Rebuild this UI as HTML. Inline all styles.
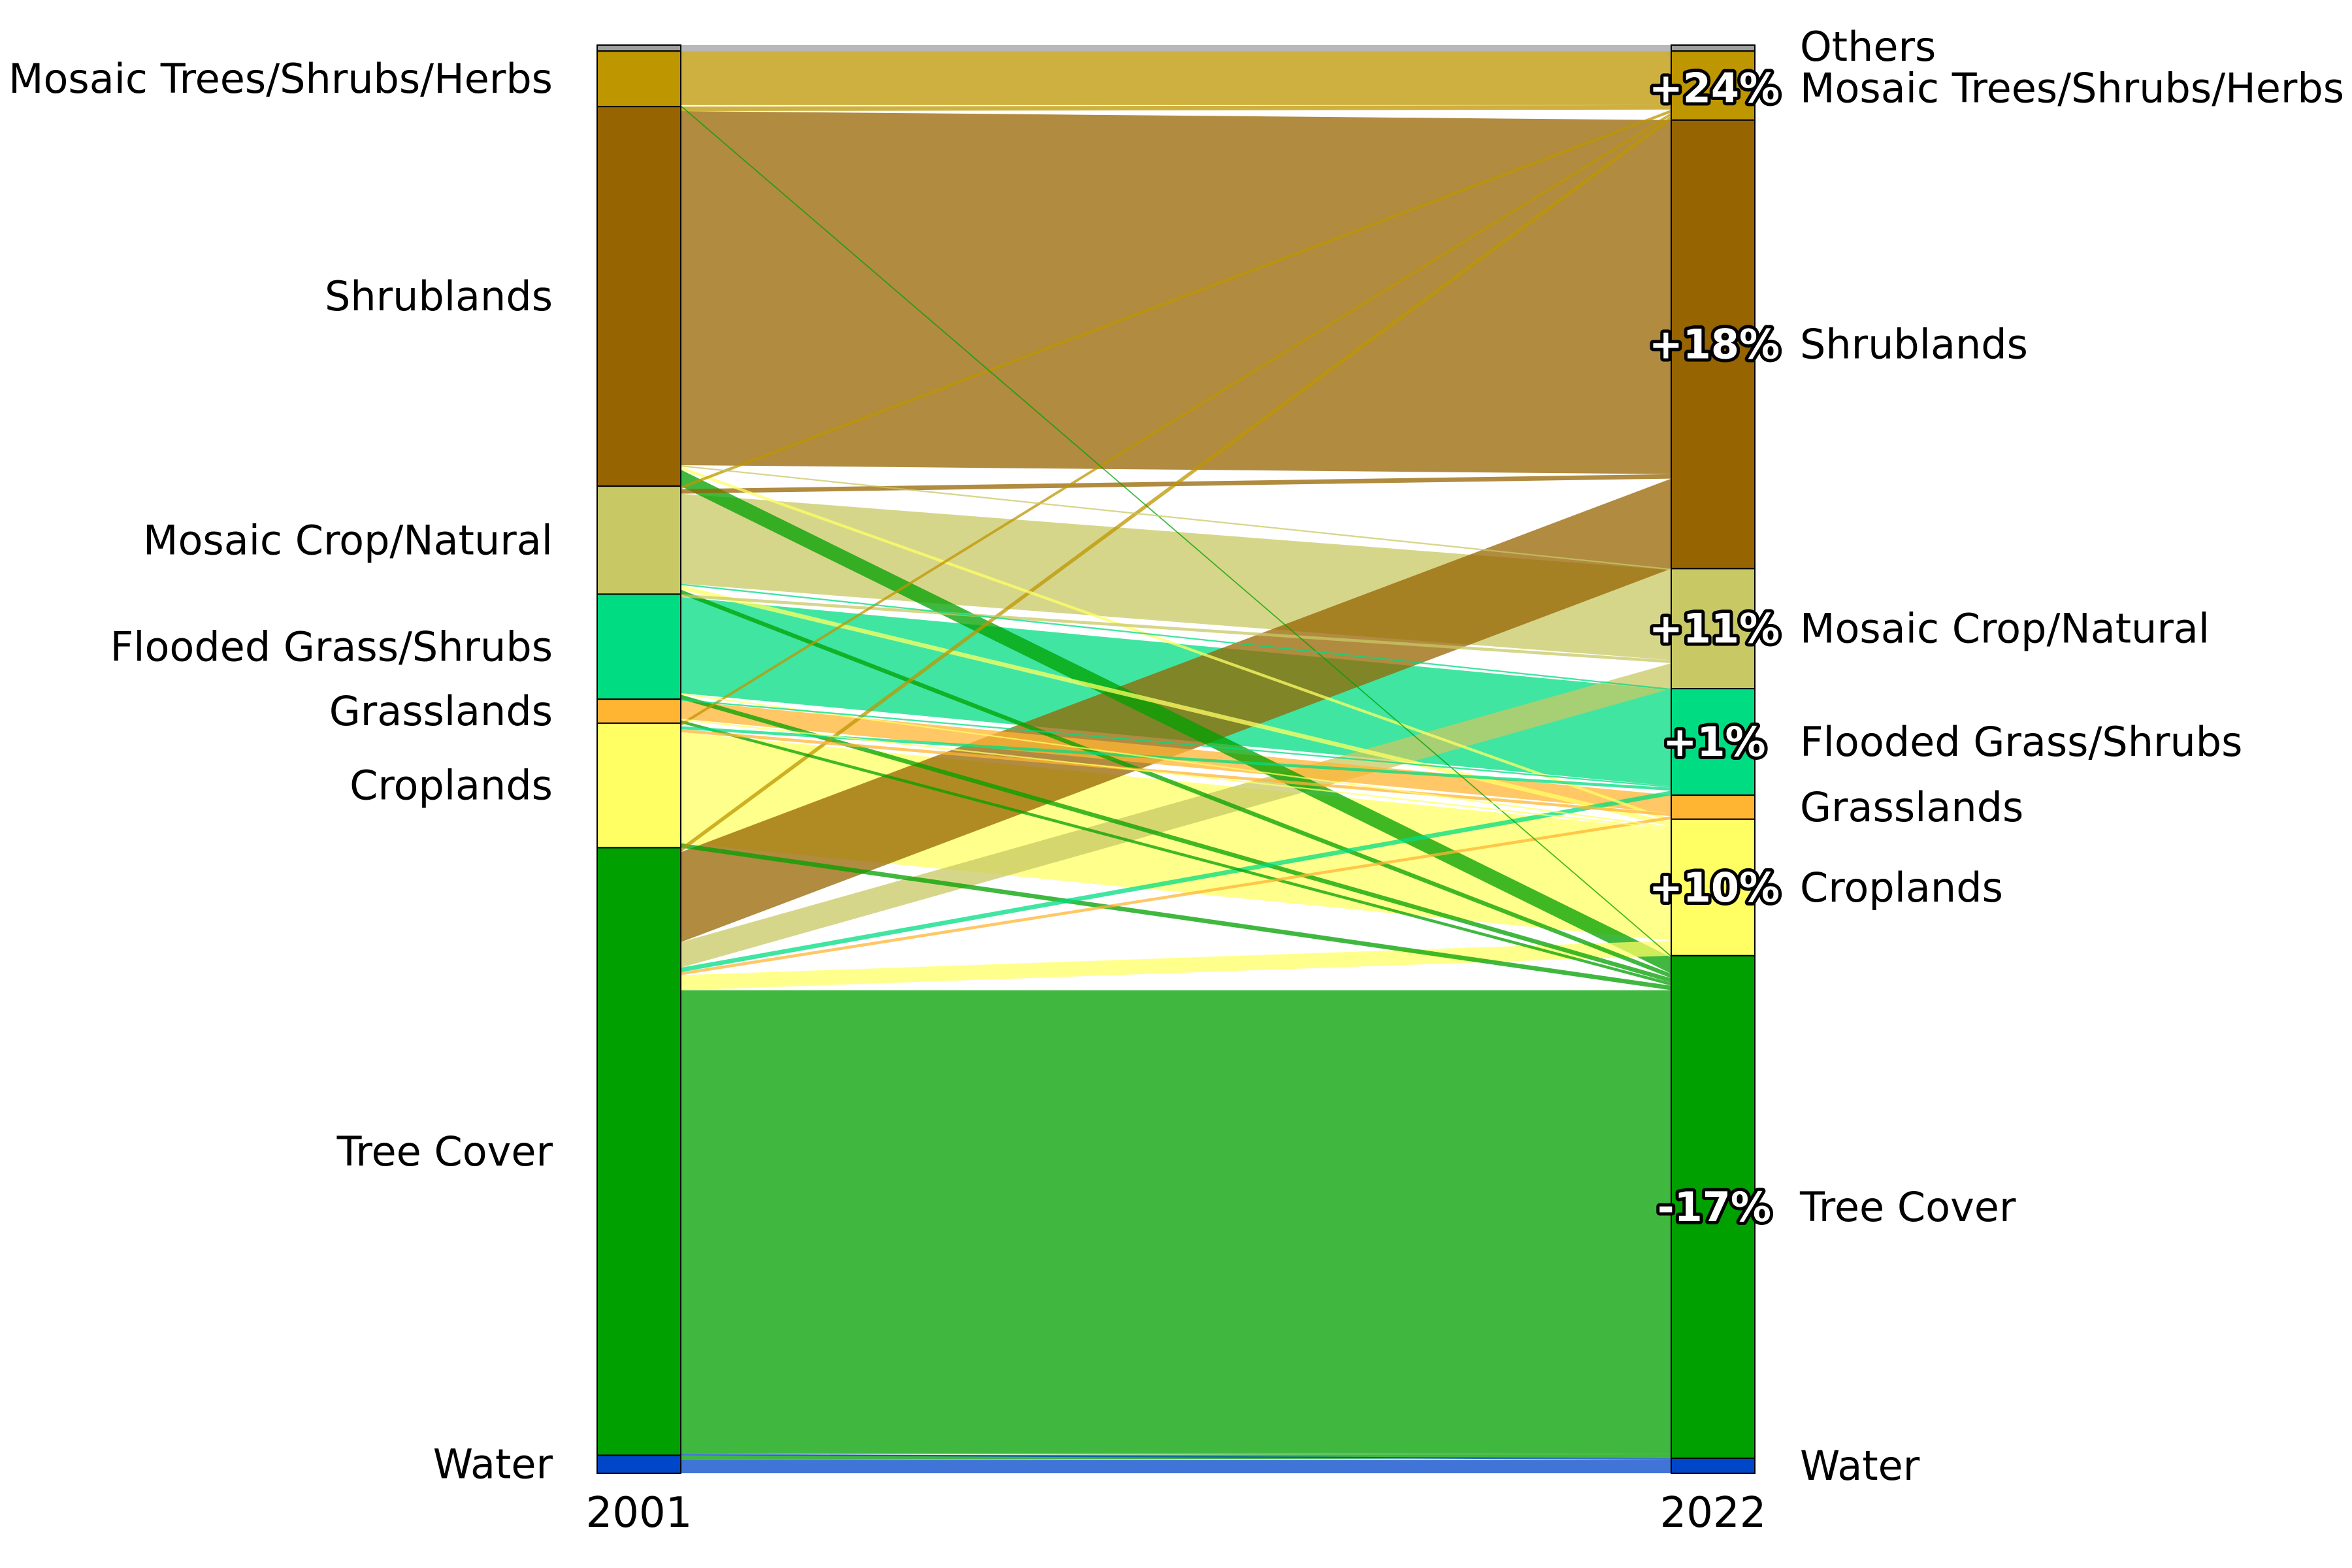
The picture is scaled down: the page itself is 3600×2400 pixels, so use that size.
<!DOCTYPE html>
<html><head><meta charset="utf-8"><style>
html,body{margin:0;padding:0;background:#fff;}
svg{display:block;}
text{font-family:"DejaVu Sans","Liberation Sans",sans-serif;}
</style></head><body>
<svg id="chart" width="3600" height="2400" viewBox="0 0 3600 2400" xmlns="http://www.w3.org/2000/svg">
<g id="flows"></g>
<g id="nodes"></g>
<g id="labels"></g>
</svg>
<script>
const categories = ["Others","Mosaic Trees/Shrubs/Herbs","Shrublands","Mosaic Crop/Natural","Flooded Grass/Shrubs","Grasslands","Croplands","Tree Cover","Water"];
const colors = ["#a0a0a0","#be9600","#966400","#c8c864","#00dc82","#ffb432","#ffff64","#00a000","#0046c8"];
// flow matrix rows = 2001 class, cols = 2022 class (relative area units)
const fromOthers = [4,0,0,0,0,0,0,0,0];
const fromMosaicTrees = [0,36,0,0,0,0,0,1,0];
const fromShrublands = [0,3,236,1,0,0,2,11,0];
const fromMosaicCrop = [0,2,3,60,1,0,3,3,0];
const fromFlooded = [0,0,0,2,64,0,1,3,0];
const fromGrasslands = [0,0,0,0,1,12,1,2,0];
const fromCroplands = [0,2,0,0,2,2,74,3,0];
const fromTreeCover = [0,3,60,17,3,2,10,309,1];
const fromWater = [0,0,0,0,0,0,0,3,9];
const flows = [fromOthers,fromMosaicTrees,fromShrublands,fromMosaicCrop,fromFlooded,fromGrasslands,fromCroplands,fromTreeCover,fromWater];
const yearLabels = ["2001","2022"];
const showChange = [false,true,true,true,true,false,true,true,false];

const NS="http://www.w3.org/2000/svg";
const top0=69, bot0=2255;
const xL0=914,xL1=1042,xR0=2558,xR1=2686;
const n=categories.length;
const outT=flows.map(r=>r.reduce((a,b)=>a+b,0));
const inT=categories.map((_,j)=>flows.reduce((a,r)=>a+r[j],0));
const total=outT.reduce((a,b)=>a+b,0);
const k=(bot0-top0)/total;
function y(v){return top0+v*k;}
const lStart=[],rStart=[];
let acc=0;for(let i=0;i<n;i++){lStart.push(acc);acc+=outT[i];}
acc=0;for(let j=0;j<n;j++){rStart.push(acc);acc+=inT[j];}
const fg=document.getElementById('flows');
const lOff=lStart.slice(), rOff=rStart.slice();
const polys=[];
for(let i=0;i<n;i++){for(let j=0;j<n;j++){const v=flows[i][j];if(!v)continue;
  const a0=lOff[i],a1=a0+v;lOff[i]=a1;
  polys.push({i,j,a0,a1});}}
for(let j=0;j<n;j++){for(let i=0;i<n;i++){const v=flows[i][j];if(!v)continue;
  const p=polys.find(q=>q.i===i&&q.j===j);p.b0=rOff[j];p.b1=rOff[j]+v;rOff[j]=p.b1;}}
polys.sort((a,b)=>(b.a1-b.a0)-(a.a1-a.a0));
polys.forEach(p=>{
  const el=document.createElementNS(NS,'polygon');
  el.setAttribute('points',`${xL1},${y(p.a0)} ${xR0},${y(p.b0)} ${xR0},${y(p.b1)} ${xL1},${y(p.a1)}`);
  el.setAttribute('fill',colors[p.j]);
  el.setAttribute('fill-opacity','0.75');
  
  
  fg.appendChild(el);
});
const ng=document.getElementById('nodes');
function rect(x,y0,y1,c,name){const r=document.createElementNS(NS,'rect');
  r.setAttribute('x',x);r.setAttribute('y',y0);r.setAttribute('width',xL1-xL0);r.setAttribute('height',Math.max(0,y1-y0));
  r.setAttribute('fill',c);r.setAttribute('stroke','#000');r.setAttribute('stroke-width','2');
  
  
  ng.appendChild(r);}
for(let i=0;i<n;i++){rect(xL0,y(lStart[i]),y(lStart[i]+outT[i]),colors[i],'node-2001-'+i);
  rect(xR0,y(rStart[i]),y(rStart[i]+inT[i]),colors[i],'node-2022-'+i);}
const lg=document.getElementById('labels');
function txt(x,yy,s,anchor,extra,name){const t=document.createElementNS(NS,'text');
  t.setAttribute('x',x);t.setAttribute('y',yy);t.setAttribute('text-anchor',anchor);
  t.setAttribute('dominant-baseline','central');t.setAttribute('font-size','62');
  for(const kk in extra)t.setAttribute(kk,extra[kk]);
  t.textContent=s;
  
  
  lg.appendChild(t);return t;}
for(let i=1;i<n;i++){
  txt(846,y(lStart[i]+outT[i]/2),categories[i],'end',{},'label-2001-'+i);
}
for(let j=0;j<n;j++){
  let cy=y(rStart[j]+inT[j]/2); if(j===0)cy-=2; if(j===1)cy+=4;
  txt(2755,cy,categories[j],'start',{},'label-2022-'+j);
  if(showChange[j]){const ch=Math.round((inT[j]-outT[j])/outT[j]*100);
      txt(2624,cy,(ch>=0?'+':'')+ch+'%','middle',{'font-weight':'bold','fill':'#fff','stroke':'#000','stroke-width':'10','paint-order':'stroke','stroke-linejoin':'round'},'change-'+j);}
}
txt(978,2316,yearLabels[0],'middle',{'font-size':'64'},'year-2001');
txt(2622,2316,yearLabels[1],'middle',{'font-size':'64'},'year-2022');
</script>
</body></html>
